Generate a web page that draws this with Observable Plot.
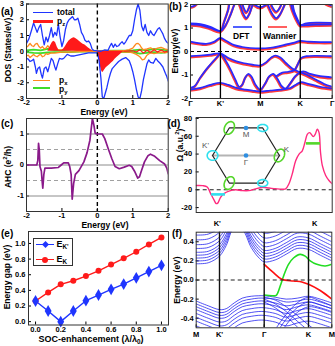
<!DOCTYPE html>
<html>
<head>
<meta charset="utf-8">
<script src="https://cdn.jsdelivr.net/npm/d3@7"></script>
<script src="https://cdn.jsdelivr.net/npm/@observablehq/plot@0.6"></script>
<style>
html,body{margin:0;padding:0;background:#fff;}
#fig{position:relative;width:335px;height:346px;overflow:hidden;background:#fff;font-family:"Liberation Sans",Arial,Helvetica,sans-serif;font-weight:bold;color:#000;}
.t{position:absolute;white-space:nowrap;line-height:1;}
.t sub,.t sup{font-size:70%;line-height:0;}
.seg{position:absolute;}
</style>
</head>
<body>
<div id="fig"></div>
<script>
// ---------------- DATA ----------------
// (a) DOS
const dosTicksX = [-2, -1, 0, 1, 2];
const dosTicksY = [-3, -2, -1, 0, 1, 2, 3];
const totalUp = [[-2,0.5],[-1.93,0.8],[-1.85,1.4],[-1.8,1.8],[-1.75,1.5],[-1.7,1.2],[-1.65,1.5],[-1.6,1.7],[-1.55,1.0],[-1.5,0.4],[-1.45,0.9],[-1.4,0.6],[-1.35,1.0],[-1.3,1.5],[-1.25,0.9],[-1.2,1.2],[-1.15,1.0],[-1.1,1.7],[-1.05,0.9],[-1.0,0.3],[-0.95,0.7],[-0.9,1.4],[-0.85,1.8],[-0.8,2.0],[-0.75,2.1],[-0.7,2.2],[-0.65,2.0],[-0.6,2.0],[-0.55,2.1],[-0.5,1.7],[-0.45,1.2],[-0.4,1.0],[-0.35,0.7],[-0.3,0.6],[-0.25,0.65],[-0.2,0.5],[-0.15,0.15],[-0.1,0.05],[0,0.02],[0.1,0.0],[0.2,0.08],[0.3,0.05],[0.35,0.3],[0.4,0.5],[0.45,0.25],[0.5,0.45],[0.55,0.3],[0.6,0.35],[0.65,0.5],[0.7,0.6],[0.75,0.45],[0.8,0.6],[0.85,0.8],[0.9,1.0],[0.95,1.0],[1.0,1.3],[1.05,2.0],[1.1,2.6],[1.15,3.0],[1.2,2.6],[1.25,1.6],[1.3,1.3],[1.35,1.7],[1.4,1.2],[1.45,1.0],[1.5,1.3],[1.55,1.1],[1.6,1.0],[1.65,1.2],[1.7,1.4],[1.75,1.5],[1.8,1.3],[1.85,1.1],[1.9,0.8],[1.95,0.6],[2.0,0.5]];
const totalDown = [[-2,-0.45],[-1.95,-0.5],[-1.9,-0.65],[-1.85,-0.6],[-1.8,-0.5],[-1.75,-1.0],[-1.72,-1.4],[-1.68,-1.1],[-1.63,-1.0],[-1.58,-1.5],[-1.55,-1.7],[-1.5,-1.1],[-1.45,-1.0],[-1.4,-1.3],[-1.35,-0.9],[-1.3,-0.45],[-1.25,-0.6],[-1.2,-1.0],[-1.17,-1.2],[-1.12,-0.8],[-1.07,-0.45],[-1.0,-0.5],[-0.95,-0.45],[-0.85,-0.2],[-0.75,-0.3],[-0.65,-0.3],[-0.55,-0.25],[-0.45,-0.2],[-0.35,-0.15],[-0.25,-0.1],[-0.1,-0.1],[0.0,-0.1],[0.05,-0.6],[0.1,-1.7],[0.14,-2.9],[0.18,-3.0],[0.22,-2.7],[0.27,-2.3],[0.32,-1.8],[0.37,-1.4],[0.42,-1.1],[0.5,-0.9],[0.6,-0.65],[0.7,-0.5],[0.8,-0.4],[0.9,-0.6],[0.95,-0.9],[1.0,-1.3],[1.05,-1.8],[1.1,-2.4],[1.15,-2.9],[1.2,-3.0],[1.25,-2.5],[1.3,-1.8],[1.35,-1.3],[1.4,-0.8],[1.45,-0.55],[1.5,-0.7],[1.58,-0.76],[1.65,-0.45],[1.7,-0.6],[1.77,-0.76],[1.85,-1.0],[1.92,-1.4],[1.96,-1.6],[2.0,-1.9]];
const pzUp = [[-1.4,0],[-1.36,0.15],[-1.32,0.35],[-1.27,0.55],[-1.23,0.63],[-1.18,0.55],[-1.13,0.25],[-1.08,0.05],[-1.0,0.05],[-0.95,0.15],[-0.9,0.3],[-0.85,0.5],[-0.8,0.65],[-0.75,0.75],[-0.7,0.82],[-0.65,0.85],[-0.6,0.8],[-0.55,0.72],[-0.5,0.62],[-0.45,0.52],[-0.4,0.45],[-0.35,0.4],[-0.3,0.3],[-0.25,0.2],[-0.2,0.12],[-0.15,0.05],[-0.1,0]];
const pzDown = [[0,0],[0.03,-0.3],[0.07,-0.8],[0.1,-1.1],[0.13,-1.3],[0.16,-1.35],[0.2,-1.2],[0.25,-1.05],[0.3,-0.95],[0.35,-0.85],[0.4,-0.75],[0.45,-0.65],[0.5,-0.5],[0.55,-0.4],[0.6,-0.3],[0.65,-0.2],[0.7,-0.1],[0.75,0]];
const pzMinor = [[0.75,0],[1.0,0.03],[1.1,-0.05],[1.2,0.1],[1.3,-0.12],[1.4,0.06],[1.5,-0.08],[1.6,0.1],[1.7,-0.05],[1.8,0.08],[1.9,-0.05],[2.0,0.02]];
const pxUp = [[-2,0.25],[-1.95,0.35],[-1.9,0.5],[-1.85,0.35],[-1.8,0.3],[-1.75,0.45],[-1.7,0.5],[-1.65,0.3],[-1.6,0.2],[-1.55,0.3],[-1.5,0.15],[-1.45,0.2],[-1.4,0.35],[-1.35,0.2],[-1.3,0.1],[-1.2,0.15],[-1.1,0.1],[-1.0,0.08],[-0.9,0.15],[-0.8,0.1],[-0.7,0.1],[-0.5,0.05],[-0.3,0.03],[0,0.02],[0.5,0.02],[0.8,0.05],[0.9,0.1],[1.0,0.2],[1.05,0.35],[1.1,0.48],[1.15,0.5],[1.2,0.4],[1.25,0.2],[1.3,0.1],[1.4,0.15],[1.5,0.22],[1.6,0.1],[1.7,0.2],[1.8,0.25],[1.9,0.15],[2,0.1]];
const pxDown = [[-2,-0.3],[-1.95,-0.25],[-1.9,-0.4],[-1.85,-0.3],[-1.8,-0.2],[-1.75,-0.3],[-1.7,-0.35],[-1.65,-0.25],[-1.6,-0.2],[-1.55,-0.35],[-1.5,-0.3],[-1.45,-0.15],[-1.4,-0.2],[-1.3,-0.1],[-1.2,-0.12],[-1.1,-0.08],[-1,-0.05],[-0.8,-0.05],[-0.5,-0.03],[0,-0.02],[0.5,-0.02],[0.9,-0.05],[1.0,-0.1],[1.1,-0.2],[1.2,-0.35],[1.27,-0.55],[1.33,-0.5],[1.4,-0.25],[1.5,-0.1],[1.6,-0.15],[1.7,-0.1],[1.8,-0.05],[1.9,-0.1],[2,-0.05]];
const pyUp = [[-2,0.05],[-1.8,0.1],[-1.6,0.05],[-1.4,0.15],[-1.2,0.08],[-1.0,0.05],[-0.8,0.1],[-0.7,0.15],[-0.5,0.05],[0,0.02],[1.0,0.05],[1.2,0.1],[1.4,0.05],[1.6,0.15],[1.8,0.1],[2,0.05]];
const pyDown = [[-2,-0.05],[-1.8,-0.1],[-1.6,-0.12],[-1.4,-0.08],[-1.2,-0.05],[-1.0,-0.05],[-0.8,-0.05],[-0.5,-0.03],[0,-0.02],[1.0,-0.05],[1.2,-0.15],[1.4,-0.1],[1.6,-0.05],[1.8,-0.1],[2,-0.05]];

// (b) bands: k-path positions and band energies
const pathTicks = [0, 30, 70, 110, 142];
const pathNames = ["Γ", "K'", "M", "K", "Γ"];
const bandsEnergyTicks = [-2, -1, 0, 1, 2];
const cb1 = [[0,0.42],[8,0.36],[16,0.33],[24,0.42],[30,0.58],[36,0.45],[44,0.27],[52,0.19],[60,0.15],[70,0.13],[80,0.16],[88,0.22],[96,0.3],[104,0.38],[110,0.45],[118,0.42],[130,0.4],[142,0.4]];
const cb2 = [[0,1.2],[10,1.17],[20,1.05],[30,0.87],[35,1.1],[40,1.55],[44,2.0],[47,2.25],[50,1.95],[53,1.6],[56,1.42],[59,1.6],[62,1.95],[66,2.3],[70,2.4],[74,2.3],[78,1.95],[82,1.6],[86,1.42],[90,1.6],[94,1.95],[98,2.3],[102,1.8],[106,1.4],[110,1.13],[116,1.2],[126,1.23],[142,1.22]];
const cb3 = [[0,1.15],[10,1.12],[20,1.0],[30,0.87],[34,1.3],[38,1.8],[41,2.3],[50,2.3],[53,1.9],[56,1.68],[59,1.9],[62,2.3],[78,2.3],[82,1.9],[86,1.7],[90,1.9],[94,2.3],[100,2.3],[104,1.7],[108,1.3],[110,1.13],[116,1.12],[126,1.14],[142,1.15]];
const cb4 = [[58,2.3],[64,2.0],[70,1.88],[76,2.0],[82,2.3]];
const cb5 = [[0,1.9],[4,1.95],[8,2.1],[12,2.3]];
const cb6 = [[130,2.3],[136,2.05],[142,1.95]];
const vb1 = [[0,-0.2],[10,-0.17],[20,-0.13],[30,-0.08],[38,-0.28],[46,-0.42],[54,-0.5],[62,-0.56],[70,-0.59],[76,-0.45],[81,-0.25],[85,-0.17],[90,-0.25],[96,-0.5],[102,-0.72],[108,-0.85],[116,-0.98],[126,-1.2],[134,-1.38],[142,-1.5]];
const vb2 = [[0,-1.55],[4,-1.48],[10,-1.1],[16,-0.75],[22,-0.45],[27,-0.22],[30,-0.08],[34,-0.3],[40,-0.75],[45,-1.2],[49,-1.5],[52,-1.4],[55,-1.1],[58,-0.95],[61,-1.05],[65,-1.4],[70,-1.62],[75,-1.35],[79,-1.05],[83,-0.95],[87,-1.15],[91,-1.45],[95,-1.58],[100,-1.35],[105,-1.05],[110,-0.88],[114,-0.85],[120,-0.95],[130,-1.05],[142,-1.1]];
const vb3 = [[86,-1.05],[92,-0.9],[98,-0.86],[104,-0.8],[108,-0.5],[111,-0.27],[116,-0.2],[126,-0.18],[142,-0.2]];
const vb4 = [[0,-1.62],[10,-1.55],[20,-1.42],[30,-1.33],[38,-1.42],[46,-1.55],[55,-1.62],[62,-1.66],[70,-1.7],[80,-1.66],[90,-1.62],[100,-1.55],[106,-1.4],[111,-1.3],[118,-1.38],[130,-1.5],[142,-1.58]];

// (c) anomalous Hall conductivity
const ahcTicksY = [-1, 0, 1];
const ahcGridSolid = [-1, 0, 1];
const ahcGridDashed = [-0.5, 0.5];
const ahc = [[-2,0],[-1.71,0],[-1.68,0.15],[-1.66,0.7],[-1.64,0.5],[-1.62,-0.05],[-1.58,-0.2],[-1.56,-0.5],[-1.54,-0.75],[-1.51,-0.3],[-1.48,-0.1],[-1.3,-0.1],[-1.1,-0.08],[-1.02,0.0],[-0.95,0.07],[-0.82,0.07],[-0.78,-0.05],[-0.74,-0.3],[-0.71,-1.1],[-0.67,-0.6],[-0.62,-0.3],[-0.52,-0.18],[-0.38,0.1],[-0.29,0.4],[-0.21,0.8],[-0.17,1.2],[-0.14,1.5],[-0.1,1.3],[-0.06,1.02],[0,1.0],[0.14,1.0],[0.21,0.85],[0.3,0.55],[0.41,0.2],[0.5,-0.05],[0.62,-0.12],[0.76,-0.07],[0.9,-0.01],[0.97,-0.05],[1.05,-0.2],[1.14,-0.42],[1.19,-0.38],[1.24,-0.2],[1.33,0.1],[1.43,0.3],[1.5,0.35],[1.62,0.28],[1.76,0.14],[1.9,0.03],[1.96,-0.1],[2.0,-0.28]];

// (d) Berry curvature along K'-K
const berryTicksY = [-20, 0, 20, 40, 60, 80];
const valleyTicks = [0, 1];
const valleyNames = ["K'", "K"];
const berry = [[-0.216,4.8],[-0.15,4.6],[-0.103,3],[-0.069,-4],[-0.035,-11],[-0.011,-15.5],[0.005,-15],[0.034,-8.5],[0.069,-4.4],[0.12,-1.5],[0.188,0],[0.257,-1],[0.325,-1],[0.394,1],[0.462,2.6],[0.53,1.9],[0.6,1.1],[0.668,0.6],[0.702,1],[0.736,6.7],[0.77,17.8],[0.805,32.6],[0.84,40],[0.873,43.7],[0.9,53],[0.924,62],[0.948,64],[0.986,59.6],[1.005,62],[1.027,67.8],[1.045,64],[1.06,42],[1.079,27],[1.113,16],[1.147,10.4],[1.18,6.7]];
const valleyBarKp = [{x1: -0.058, x2: 0.085, y: -5.2}];
const valleyBarK = [{x1: 0.915, x2: 1.06, y: 52}];
// inset Brillouin zone
const bzVertices = [[1,0],[0.5,0.866],[-0.5,0.866],[-1,0],[-0.5,-0.866],[0.5,-0.866],[1,0]];
const bzLine = [[-1,0],[1,0]];
const bzPoints = [{name:"Γ",x:0,y:0,dot:true,dx:0,dy:6.5},{name:"M",x:0,y:0.866,dot:true,dx:0,dy:6.5},{name:"K",x:1,y:0,dot:false,dx:7,dy:-6},{name:"K'",x:-1,y:0,dot:false,dx:-7,dy:-10}];
const valleyGreen = [[1,0],[-0.5,0.866],[-0.5,-0.866]];
const valleyCyan = [[-1,0],[0.5,0.866],[0.5,-0.866]];

// (e) gap vs SOC enhancement
const socRatio = [0, 0.1, 0.2, 0.3, 0.4, 0.5, 0.6, 0.7, 0.8, 0.9, 1.0];
const gapKprime = [0.264, 0.136, 0.0, 0.136, 0.268, 0.34, 0.413, 0.48, 0.56, 0.64, 0.72];
const gapK = [0.264, 0.374, 0.477, 0.523, 0.583, 0.65, 0.73, 0.81, 0.894, 0.987, 1.077];
const socTicks = [0, 0.2, 0.4, 0.6, 0.8, 1.0];
const gapTicks = [0, 0.2, 0.4, 0.6, 0.8, 1.0];

// (f) ribbon bands
const ribbonTicks = [0, 23.3, 68, 112.3, 135.6];
const ribbonNames = ["M", "K'", "Γ", "K", "M"];
const ribbonEnergyTicks = [-0.4, -0.2, 0, 0.2, 0.4];
const fK = [0, 12, 23.3, 30, 38, 46, 55, 62, 68, 79, 90, 101, 112.3, 124, 135.6];
const U1 = [0.17, 0.18, 0.25, 0.36, 0.55, 0.53, 0.34, 0.24, 0.19, 0.21, 0.27, 0.33, 0.32, 0.26, 0.2];
const U2 = [0.2, 0.21, 0.28, 0.39, 0.58, 0.56, 0.37, 0.27, 0.22, 0.24, 0.3, 0.36, 0.35, 0.29, 0.23];
const U3 = [0.23, 0.24, 0.31, 0.42, 0.61, 0.59, 0.4, 0.3, 0.25, 0.27, 0.33, 0.39, 0.38, 0.32, 0.26];
const U4 = [0.26, 0.27, 0.34, 0.45, 0.64, 0.62, 0.43, 0.33, 0.28, 0.3, 0.36, 0.42, 0.41, 0.35, 0.29];
const U5 = [0.29, 0.3, 0.37, 0.48, 0.67, 0.65, 0.46, 0.36, 0.31, 0.33, 0.39, 0.45, 0.44, 0.38, 0.32];
const U6 = [0.33, 0.34, 0.41, 0.52, 0.71, 0.69, 0.5, 0.4, 0.35, 0.37, 0.43, 0.49, 0.48, 0.42, 0.36];
const U7 = [0.37, 0.38, 0.45, 0.56, 0.75, 0.73, 0.54, 0.44, 0.39, 0.41, 0.47, 0.53, 0.52, 0.46, 0.4];
const U8 = [0.42, 0.43, 0.5, 0.61, 0.8, 0.78, 0.59, 0.49, 0.44, 0.46, 0.52, 0.58, 0.57, 0.51, 0.45];
const U9 = [0.47, 0.48, 0.55, 0.66, 0.85, 0.83, 0.64, 0.54, 0.49, 0.51, 0.57, 0.63, 0.62, 0.56, 0.5];
const L1 = [-0.22, -0.27, -0.31, -0.3, -0.24, -0.19, -0.17, -0.165, -0.165, -0.18, -0.2, -0.19, -0.17, -0.2, -0.24];
const L2 = [-0.25, -0.3, -0.34, -0.33, -0.27, -0.22, -0.2, -0.19, -0.19, -0.2, -0.23, -0.22, -0.2, -0.23, -0.27];
const L3 = [-0.28, -0.33, -0.37, -0.36, -0.3, -0.25, -0.23, -0.22, -0.22, -0.24, -0.27, -0.25, -0.23, -0.26, -0.3];
const L4 = [-0.31, -0.36, -0.4, -0.39, -0.33, -0.28, -0.26, -0.25, -0.25, -0.27, -0.31, -0.28, -0.26, -0.29, -0.33];
const L5 = [-0.35, -0.4, -0.44, -0.43, -0.37, -0.32, -0.3, -0.29, -0.29, -0.31, -0.35, -0.32, -0.3, -0.33, -0.37];
const L6 = [-0.39, -0.44, -0.48, -0.47, -0.41, -0.36, -0.34, -0.33, -0.33, -0.35, -0.39, -0.36, -0.34, -0.37, -0.41];
const L7 = [-0.43, -0.48, -0.52, -0.51, -0.45, -0.4, -0.38, -0.37, -0.37, -0.39, -0.43, -0.4, -0.38, -0.41, -0.45];
const L8 = [-0.48, -0.53, -0.57, -0.56, -0.5, -0.45, -0.43, -0.42, -0.42, -0.44, -0.48, -0.45, -0.43, -0.46, -0.5];
const fKx = [68, 79, 90, 101, 112.3, 124, 135.6];
const D1 = [-0.18, -0.21, -0.28, -0.37, -0.47, -0.56, -0.64];
const D2 = [-0.2, -0.25, -0.33, -0.43, -0.53, -0.62, -0.7];
const D3 = [-0.23, -0.29, -0.38, -0.49, -0.6, -0.69, -0.76];
const R1 = [-0.75, -0.52, -0.36, -0.24, -0.18, -0.22, -0.27];
const R2 = [-0.8, -0.58, -0.41, -0.29, -0.23, -0.26, -0.3];
const R3 = [-0.86, -0.64, -0.47, -0.34, -0.28, -0.3, -0.34];
const edgeRed = [[68,0.164],[77.3,0.077],[85.6,0.007],[97.3,-0.01],[105.6,-0.02],[112.3,-0.045],[124,-0.11],[135.6,-0.2]];
const edgeGreen = [[68,-0.157],[76,-0.165],[80,-0.16],[84,-0.063],[87.3,0.04],[92.3,0.164],[97.3,0.23],[104,0.268],[109,0.25],[114,0.2],[120.6,0.164],[129,0.147],[135.6,0.164]];

// ---------------- RENDER ----------------
const FONT = '"Liberation Sans", Arial, Helvetica, sans-serif';
const STYLE = {fontFamily: FONT, fontSize: "7.5px", fontWeight: "bold", background: "transparent", overflow: "visible", color: "#000"};
const C = {blue:"#1f35ff", red:"#ff1a1a", orange:"#ff8a1e", green:"#3fdc2a", purple:"#8a1a8a", pink:"#ff2b7e",
  cyan:"#2fe0ee", lime:"#55d62b", ribbon:"#2626f0", edgeGreen:"#22dd22", edgeRed:"#ff1010", frame:"#333"};
const fig = document.getElementById("fig");
const P = d => d[0], V = d => d[1];
const fmtInt = d => (d < 0 ? "-" : "") + Math.abs(d);
const fmt1 = d => (d < 0 ? "-" : "") + Math.abs(d).toFixed(1);
const ax = (o) => Object.assign({label: null, tickSize: -3}, o);

function place(svg, left, top) {
  svg.style.position = "absolute";
  svg.style.left = left + "px";
  svg.style.top = top + "px";
  fig.appendChild(svg);
}
function txt(html, x, y, o = {}) {
  const d = document.createElement("div");
  d.className = "t";
  d.innerHTML = html;
  d.style.left = x + "px";
  d.style.top = y + "px";
  d.style.fontSize = (o.size || 9) + "px";
  if (o.weight) d.style.fontWeight = o.weight;
  if (o.color) d.style.color = o.color;
  if (o.bg) { d.style.background = o.bg; d.style.padding = "0 1px"; }
  const tx = o.anchor === "start" ? "0" : "-50%";
  d.style.transform = `translate(${tx},-50%)` + (o.rotate ? " rotate(-90deg)" : "");
  fig.appendChild(d);
}
function seg(x1, x2, y, color, w) {
  const d = document.createElement("div");
  d.className = "seg";
  d.style.left = x1 + "px"; d.style.top = (y - w / 2) + "px";
  d.style.width = (x2 - x1) + "px"; d.style.height = w + "px";
  d.style.background = color;
  fig.appendChild(d);
  return d;
}

// ---- (a) DOS ----
place(Plot.plot({
  width: 170, height: 113, marginLeft: 26, marginRight: 2.3, marginTop: 3.5, marginBottom: 15,
  style: STYLE,
  x: ax({domain: [-2, 2], ticks: dosTicksX, tickFormat: fmtInt, tickPadding: 4}),
  y: ax({domain: [-3, 3], ticks: dosTicksY, tickFormat: fmtInt, tickPadding: 5.7}),
  marks: [
    Plot.line(pyUp, {x: P, y: V, stroke: C.green, strokeWidth: 1.8, clip: true}),
    Plot.line(pyDown, {x: P, y: V, stroke: C.green, strokeWidth: 1.8, clip: true}),
    Plot.line(pxUp, {x: P, y: V, stroke: C.orange, strokeWidth: 1.3, clip: true}),
    Plot.line(pxDown, {x: P, y: V, stroke: C.orange, strokeWidth: 1.3, clip: true}),
    Plot.areaY(pzUp, {x: P, y: V, fill: C.red, clip: true}),
    Plot.areaY(pzDown, {x: P, y: V, fill: C.red, clip: true}),
    Plot.line(pzMinor, {x: P, y: V, stroke: C.red, strokeWidth: 1.2, clip: true}),
    Plot.line(totalUp, {x: P, y: V, stroke: C.blue, strokeWidth: 1.3, clip: true}),
    Plot.line(totalDown, {x: P, y: V, stroke: C.blue, strokeWidth: 1.3, clip: true}),
    Plot.ruleX([0], {stroke: "#000", strokeWidth: 1.4, strokeDasharray: "4,3"}),
    Plot.frame({stroke: C.frame})
  ]
}), 0, 0);
seg(33, 53, 12.5, C.blue, 1.6);
txt("total", 57, 12, {anchor: "start", size: 8.5});
seg(33, 53, 21, C.red, 3);
txt("p<sub>z</sub>", 57, 20.5, {anchor: "start", size: 8.5});
seg(33, 50, 80.5, C.orange, 1.8);
txt("p<sub>x</sub>", 59, 79.5, {anchor: "start", size: 8.5});
seg(33, 50, 88, C.green, 2.2);
txt("p<sub>y</sub>", 59, 88.5, {anchor: "start", size: 8.5});
txt("DOS (States/eV)", 7.5, 50, {rotate: true, size: 8.5});
txt("Energy (eV)", 104, 111.5, {size: 8.5});
txt("(a)", 1, 12, {anchor: "start", size: 10});

// ---- (b) DFT vs Wannier bands ----
const bandsB = [cb1, cb2, cb3, cb4, cb5, cb6, vb1, vb2, vb3, vb4];
const bandMarks = [];
for (const b of bandsB) bandMarks.push(Plot.line(b, {x: P, y: V, stroke: "#ff3a3a", strokeWidth: 2.3, dy: 1.1, dx: -0.5, curve: "catmull-rom", clip: true}));
for (const b of bandsB) bandMarks.push(Plot.line(b, {x: P, y: V, stroke: "#2a2aff", strokeWidth: 1.7, curve: "catmull-rom", clip: true}));
place(Plot.plot({
  width: 170, height: 113, marginLeft: 25, marginRight: 3.3, marginTop: 4, marginBottom: 15,
  style: STYLE,
  x: ax({domain: [0, 142], ticks: pathTicks, tickFormat: (d, i) => pathNames[pathTicks.indexOf(d)], tickPadding: 5}),
  y: ax({domain: [-2, 2], ticks: bandsEnergyTicks, tickFormat: fmtInt, tickPadding: 5.3}),
  marks: [
    ...bandMarks,
    Plot.ruleX(pathTicks.slice(1, 4), {stroke: "#000", strokeWidth: 1.3}),
    Plot.ruleY([0], {stroke: "#000", strokeWidth: 1.2, strokeDasharray: "4,3"}),
    Plot.frame({stroke: C.frame})
  ]
}), 165, 0);
seg(233, 252, 27, "#5060ff", 2.5);
seg(268, 287, 27, "#ff6060", 2.5);
txt("DFT", 232, 35.5, {anchor: "start", size: 8.5, bg: "#fff"});
txt("Wannier", 262, 35.5, {anchor: "start", size: 8.5, bg: "#fff"});
txt("Energy(eV)", 175, 51, {rotate: true, size: 8.5});
txt("(b)", 169, 6.5, {anchor: "start", size: 10});

// ---- (c) AHC ----
place(Plot.plot({
  width: 170, height: 113, marginLeft: 26, marginRight: 2.3, marginTop: 6, marginBottom: 14,
  style: STYLE,
  x: ax({domain: [-2, 2], ticks: dosTicksX, tickFormat: fmtInt, tickPadding: 4}),
  y: ax({domain: [-1.5, 1.5], ticks: ahcTicksY, tickFormat: fmtInt, tickPadding: 5.7}),
  marks: [
    Plot.ruleY(ahcGridSolid, {stroke: "#8c8c8c", strokeWidth: 1}),
    Plot.ruleY(ahcGridDashed, {stroke: "#a0a0a0", strokeWidth: 1, strokeDasharray: "4,3"}),
    Plot.ruleX([0], {stroke: "#000", strokeWidth: 1.4, strokeDasharray: "4,3"}),
    Plot.line(ahc, {x: P, y: V, stroke: C.purple, strokeWidth: 1.7, clip: true}),
    Plot.frame({stroke: C.frame})
  ]
}), 0, 112);
txt("AHC (e<sup>2</sup>/h)", 8, 167, {rotate: true, size: 8.5});
txt("Energy (eV)", 105, 224.5, {size: 8.5});
txt("(c)", 1, 123.5, {anchor: "start", size: 10});

// ---- (d) Berry curvature ----
place(Plot.plot({
  width: 170, height: 113, marginLeft: 30.7, marginRight: 3.3, marginTop: 5, marginBottom: 13,
  style: STYLE,
  x: ax({domain: [-0.216, 1.18], ticks: valleyTicks, tickFormat: d => valleyNames[valleyTicks.indexOf(d)], tickPadding: 8, tickSize: 0}),
  y: ax({domain: [-25.5, 81], ticks: berryTicksY, tickFormat: fmtInt, tickPadding: 7}),
  marks: [
    Plot.ruleY([0], {stroke: "#222", strokeWidth: 1.1, strokeDasharray: "4,3"}),
    Plot.line(berry, {x: P, y: V, stroke: C.pink, strokeWidth: 1.4, curve: "catmull-rom", clip: true}),
    Plot.ruleY(valleyBarKp, {x1: "x1", x2: "x2", y: "y", stroke: C.cyan, strokeWidth: 2.6}),
    Plot.ruleY(valleyBarK, {x1: "x1", x2: "x2", y: "y", stroke: C.lime, strokeWidth: 2.6}),
    Plot.frame({stroke: C.frame})
  ]
}), 165, 112);
// inset hexagonal Brillouin zone
function ellipse(id, cx, cy, rx, ry, rotDeg) {
  const r = rotDeg * Math.PI / 180, pts = [];
  for (let i = 0; i <= 40; i++) {
    const t = i / 40 * 2 * Math.PI, ex = rx * Math.cos(t), ey = ry * Math.sin(t);
    pts.push({id, x: cx + ex * Math.cos(r) - ey * Math.sin(r), y: cy + ex * Math.sin(r) + ey * Math.cos(r)});
  }
  return pts;
}
const greenEll = valleyGreen.flatMap((v, i) => ellipse("g" + i, v[0], v[1], 0.14, 0.21, -25));
const cyanEll = valleyCyan.flatMap((v, i) => ellipse("c" + i, v[0], v[1], i === 0 ? 0.16 : 0.15, i === 0 ? 0.15 : 0.11, 0));
place(Plot.plot({
  width: 87, height: 70, margin: 0,
  style: {...STYLE, fontWeight: "normal"},
  x: {domain: [-1.3, 1.3], axis: null},
  y: {domain: [-1.1, 1.1], axis: null},
  marks: [
    Plot.line(bzLine, {x: P, y: V, stroke: "#b4b4b4", strokeWidth: 2}),
    Plot.line(bzVertices, {x: P, y: V, stroke: "#222", strokeWidth: 1.2}),
    Plot.line(greenEll, {x: "x", y: "y", z: "id", stroke: C.lime, strokeWidth: 1.6}),
    Plot.line(cyanEll, {x: "x", y: "y", z: "id", stroke: C.cyan, strokeWidth: 1.6}),
    Plot.dot(bzPoints.filter(d => d.dot), {x: "x", y: "y", r: 2.3, fill: "#2e8ee0", stroke: "none"}),
    ...bzPoints.map(p => Plot.text([p], {x: "x", y: "y", text: "name", dx: p.dx, dy: p.dy, fill: "#555", fontSize: 8}))
  ]
}), 201.5, 119.5);
txt("Ω (a.u.<sup>2</sup>)", 180, 145, {rotate: true, size: 8.5});
txt("(d)", 167.5, 123.5, {anchor: "start", size: 10});

// ---- (e) gap vs SOC ----
place(Plot.plot({
  width: 170, height: 118, marginLeft: 28, marginRight: 2, marginTop: 3, marginBottom: 21.5,
  style: STYLE,
  x: ax({domain: [-0.056, 1.056], ticks: socTicks, tickFormat: fmt1, tickPadding: 4.5}),
  y: ax({domain: [-0.043, 1.153], ticks: gapTicks, tickFormat: fmt1, tickPadding: 6}),
  marks: [
    Plot.line(socRatio, {x: d => d, y: (d, i) => gapK[i], stroke: C.red, strokeWidth: 1.4}),
    Plot.line(socRatio, {x: d => d, y: (d, i) => gapKprime[i], stroke: C.blue, strokeWidth: 1.4}),
    Plot.dot(socRatio, {x: d => d, y: (d, i) => gapK[i], r: 3, fill: C.red, stroke: "none"}),
    Plot.dot(socRatio, {x: d => d, y: (d, i) => gapKprime[i], r: 3.6, symbol: "diamond", fill: C.blue, stroke: "none"}),
    Plot.frame({stroke: C.frame})
  ]
}), 0, 228);
{
  const box = document.createElement("div");
  box.style.cssText = "position:absolute;left:33px;top:238px;width:38px;height:26px;border:1px solid #333;background:#fff;";
  fig.appendChild(box);
  seg(36, 54, 244.5, C.blue, 1.5);
  const dm = seg(42.5, 47.5, 244.5, C.blue, 5); dm.style.transform = "rotate(45deg)";
  seg(36, 54, 259.5, C.red, 1.5);
  const ci = seg(42, 48, 259.5, C.red, 6); ci.style.borderRadius = "50%";
  txt("E<sub>K'</sub>", 56.5, 244, {anchor: "start", size: 9});
  txt("E<sub>K</sub>", 56.5, 259, {anchor: "start", size: 9});
}
txt("Energy gap (eV)", 6.5, 277, {rotate: true, size: 8.5});
txt("SOC-enhancement (λ/λ<sub>0</sub>)", 91, 339, {size: 9});
txt("(e)", 1, 233.5, {anchor: "start", size: 10});

// ---- (f) ribbon bands ----
const upper = [U1, U2, U3, U4, U5, U6, U7, U8, U9];
const lower = [L1, L2, L3, L4, L5, L6, L7, L8];
const cross = [D1, D2, D3, R1, R2, R3];
const ribbonMarks = [
  ...upper.map(b => Plot.line(b, {x: (d, i) => fK[i], y: d => d, stroke: C.ribbon, strokeWidth: 0.8, curve: "catmull-rom", clip: true})),
  ...lower.map(b => Plot.line(b, {x: (d, i) => fK[i], y: d => d, stroke: C.ribbon, strokeWidth: 0.8, curve: "catmull-rom", clip: true})),
  ...cross.map(b => Plot.line(b, {x: (d, i) => fKx[i], y: d => d, stroke: C.ribbon, strokeWidth: 0.8, curve: "catmull-rom", clip: true}))
];
place(Plot.plot({
  width: 170, height: 118, marginLeft: 30.7, marginRight: 3.7, marginTop: 3.7, marginBottom: 18.7,
  style: STYLE,
  x: ax({domain: [0, 135.6], ticks: ribbonTicks, tickFormat: d => ribbonNames[ribbonTicks.indexOf(d)], tickPadding: 7}),
  y: ax({domain: [-0.5, 0.5], ticks: ribbonEnergyTicks, tickFormat: fmt1, tickPadding: 5.4}),
  marks: [
    ...ribbonMarks,
    Plot.line(edgeGreen, {x: P, y: V, stroke: C.edgeGreen, strokeWidth: 1.6, curve: "catmull-rom", clip: true}),
    Plot.line(edgeRed, {x: P, y: V, stroke: C.edgeRed, strokeWidth: 1.6, curve: "catmull-rom", clip: true}),
    Plot.ruleX(ribbonTicks.slice(1, 4), {stroke: "#111", strokeWidth: 1.4}),
    Plot.ruleY([0], {stroke: "#222", strokeWidth: 1.2, strokeDasharray: "4,3"}),
    Plot.frame({stroke: C.frame})
  ]
}), 165, 228);
txt("Energy (eV)", 176.5, 280, {rotate: true, size: 8.5});
txt("(f)", 172, 234, {anchor: "start", size: 10});
</script>
</body>
</html>
